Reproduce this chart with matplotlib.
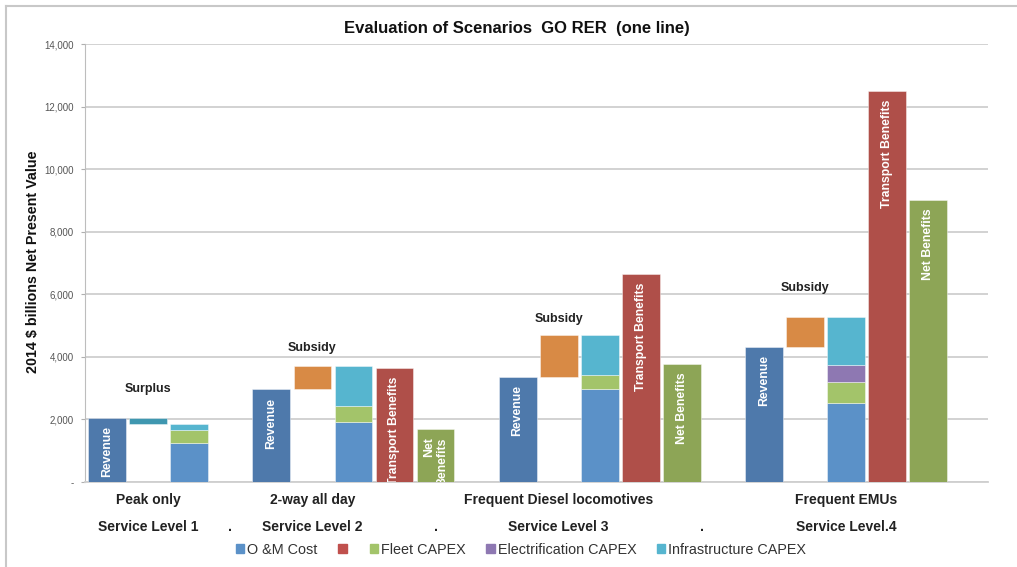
import matplotlib
matplotlib.use("Agg")
import matplotlib.pyplot as plt
from matplotlib.patches import Patch
from matplotlib.lines import Line2D
from matplotlib.ticker import FuncFormatter

plt.rcParams['font.family'] = ['Liberation Sans', 'DejaVu Sans']

# ---------------- data ----------------
scenarios = ["Peak only", "2-way all day", "Frequent Diesel locomotives", "Frequent EMUs"]
levels = ["Service Level 1", "Service Level 2", "Service Level 3", "Service Level.4"]
revenue = [2050, 2960, 3365, 4310]
om_cost = [1255, 1905, 2970, 2515]
fleet_capex = [405, 525, 460, 680]
elec_capex = [0, 0, 0, 545]
infra_capex = [190, 1285, 1275, 1530]
transport_benefits = [None, 3650, 6655, 12500]
net_benefits = [None, 1700, 3760, 9000]
net_labels = [None, "Net\nBenefits", "Net Benefits", "Net Benefits"]
balance_labels = ["Surplus", "Subsidy", "Subsidy", "Subsidy"]
balance_label_y = [2960, 4280, 5210, 6200]
yticks = [0, 2000, 4000, 6000, 8000, 10000, 12000, 14000]

# ---------------- style ----------------
C_REV = "#4E79AB"
C_SURPLUS = "#3F97B0"
C_SUBSIDY = "#D88A45"
C_OM = "#5B91C8"
C_FLEET = "#A3C46A"
C_ELEC = "#8E78B2"
C_INFRA = "#56B5CF"
C_TRANS = "#AF4F49"
C_NET = "#8DA556"
W = 0.92

fig = plt.figure(figsize=(10.17, 5.67), dpi=100)
ax = fig.add_axes([85/1017, 1-482/567, (988-85)/1017, (482-44)/567])

bar_kw = dict(width=W, zorder=3, edgecolor=(1, 1, 1, 0.5), linewidth=0.6)
txt_kw = dict(color="white", fontsize=8.8, fontweight="bold", rotation=90,
              ha="center", va="top", textcoords="offset points", xytext=(0, -6),
              clip_on=True, zorder=4, multialignment="right")

start = 0
starts = []
for i in range(len(scenarios)):
    starts.append(start)
    x = start
    # revenue
    ax.bar(x, revenue[i], color=C_REV, **bar_kw)
    ax.annotate("Revenue", (x, revenue[i]), **txt_kw)
    # subsidy / surplus
    total = om_cost[i] + fleet_capex[i] + elec_capex[i] + infra_capex[i]
    lo, hi = min(revenue[i], total), max(revenue[i], total)
    col = C_SURPLUS if revenue[i] > total else C_SUBSIDY
    ax.bar(x + 1, hi - lo, bottom=lo, color=col, **bar_kw)
    ax.text(x + 1, balance_label_y[i], balance_labels[i], ha="center", va="center",
            fontsize=9, fontweight="bold", color="#222222")
    # cost stack
    b = 0
    for vals, c in ((om_cost, C_OM), (fleet_capex, C_FLEET), (elec_capex, C_ELEC), (infra_capex, C_INFRA)):
        if vals[i] > 0:
            ax.bar(x + 2, vals[i], bottom=b, color=c, **bar_kw)
        b += vals[i]
    n = 3
    if transport_benefits[i] is not None:
        ax.bar(x + 3, transport_benefits[i], color=C_TRANS, **bar_kw)
        ax.annotate("Transport Benefits", (x + 3, transport_benefits[i]), **txt_kw)
        ax.bar(x + 4, net_benefits[i], color=C_NET, **bar_kw)
        ax.annotate(net_labels[i], (x + 4, net_benefits[i]), **txt_kw)
        n = 5
    start += n + 1

ax.set_xlim(-0.54, 21.46)
ax.set_ylim(0, 14000)
ax.set_yticks(yticks)
ax.yaxis.set_major_formatter(FuncFormatter(lambda v, p: "-" if v == 0 else f"{int(v):,}"))
ax.tick_params(axis="y", labelsize=7, colors="#B0B0B0", labelcolor="#555555", length=3, pad=5)
ax.set_xticks([])
ax.grid(axis="y", color="#CFCFCF", linewidth=1.3, zorder=0)
for s in ("top", "right"):
    ax.spines[s].set_visible(False)
ax.spines["left"].set_color("#BDBDBD")
ax.spines["bottom"].set_color("#CFCFCF")
ax.spines["bottom"].set_linewidth(1.3)

# category labels
label_offsets = [1, 1, 1, 2]
trans = ax.get_xaxis_transform()
for i in range(len(scenarios)):
    xc = starts[i] + label_offsets[i]
    ax.text(xc, -(500-482)/438, scenarios[i], transform=trans, ha="center", va="center",
            fontsize=10, fontweight="bold", color="#222222", clip_on=False)
    ax.text(xc, -(527-482)/438, levels[i], transform=trans, ha="center", va="center",
            fontsize=10, fontweight="bold", color="#222222", clip_on=False)
for xd in (3, 8, 14.5):
    ax.text(xd, -(527-482)/438, ".", transform=trans, ha="center", va="center",
            fontsize=10, fontweight="bold", color="#222222", clip_on=False)

fig.text(0.508, 1-28/567, "Evaluation of Scenarios  GO RER  (one line)", ha="center", va="center",
         fontsize=12, fontweight="bold", color="#111111")
fig.text(33/1017, 1-262/567, "2014 $ billions Net Present Value", rotation=90, ha="center",
         va="center", fontsize=10.3, fontweight="bold", color="#111111")

handles = [Patch(color=C_OM), Patch(color="#C0504D"), Patch(color=C_FLEET),
           Patch(color=C_ELEC), Patch(color=C_INFRA)]
labels = ["O &M Cost", "", "Fleet CAPEX", "Electrification CAPEX", "Infrastructure CAPEX"]
fig.legend(handles, labels, loc="center", bbox_to_anchor=(521/1017, 1-550/567), ncol=5,
           frameon=False, fontsize=10.4, handlelength=0.6, handleheight=0.6,
           handletextpad=0.2, columnspacing=1.4, labelcolor="#333333")

# outer frame (top and left)
fig.add_artist(Line2D([6/1017, 1], [1-6/567, 1-6/567], color="#C8C8C8", lw=1.5))
fig.add_artist(Line2D([6/1017, 6/1017], [0, 1-6/567], color="#C8C8C8", lw=1.5))

fig.savefig("out.png", dpi=100)
